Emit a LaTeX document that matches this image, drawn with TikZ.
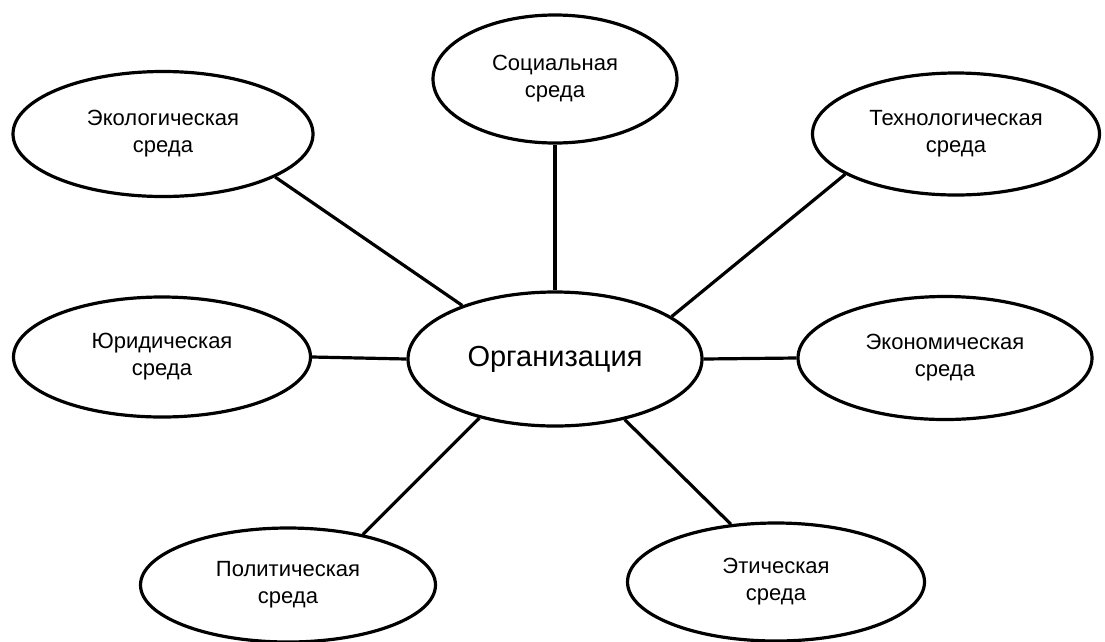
\documentclass[tikz,border=0pt]{standalone}
\usepackage{fontspec}
\setmainfont{Liberation Sans}
\usetikzlibrary{shapes.geometric}
\begin{document}
\begin{tikzpicture}[x=1pt,y=-1pt,
  env/.style={ellipse, draw, line width=3.2pt, inner sep=0pt, align=center,
              font=\fontsize{22}{27}\selectfont},
  link/.style={line width=3.2pt}]
\useasboundingbox (0,0) rectangle (1105,641);
\fill[white] (0,0) rectangle (1105,641);
\node[env, minimum width=294pt, minimum height=134pt, font=\fontsize{29}{32}\selectfont] (org) at (555,359) {Организация};
\node[env, minimum width=244pt, minimum height=128pt] (soc) at (555,79) {Социальная\\среда};
\node[env, minimum width=300pt, minimum height=125pt] (eco) at (163,134) {Экологическая\\среда};
\node[env, minimum width=287pt, minimum height=122pt] (tech) at (956,134) {Технологическая\\среда};
\node[env, minimum width=297pt, minimum height=120pt] (yur) at (162,357) {Юридическая\\среда};
\node[env, minimum width=294pt, minimum height=123pt] (econ) at (945,358) {Экономическая\\среда};
\node[env, minimum width=295pt, minimum height=114pt] (pol) at (288,585) {Политическая\\среда};
\node[env, minimum width=297pt, minimum height=118pt] (eth) at (776,582) {Этическая\\среда};
\draw[link] (soc.south) -- (org.north);
\draw[link] (eco.-21.5) -- (org.150.7);
\draw[link] (tech.200.1) -- (org.20);
\draw[link] (yur.east) -- (org.west);
\draw[link] (econ.west) -- (org.east);
\draw[link] (pol.34.8) -- (org.218.9);
\draw[link] (eth.128.4) -- (org.-41.8);
\end{tikzpicture}
\end{document}
